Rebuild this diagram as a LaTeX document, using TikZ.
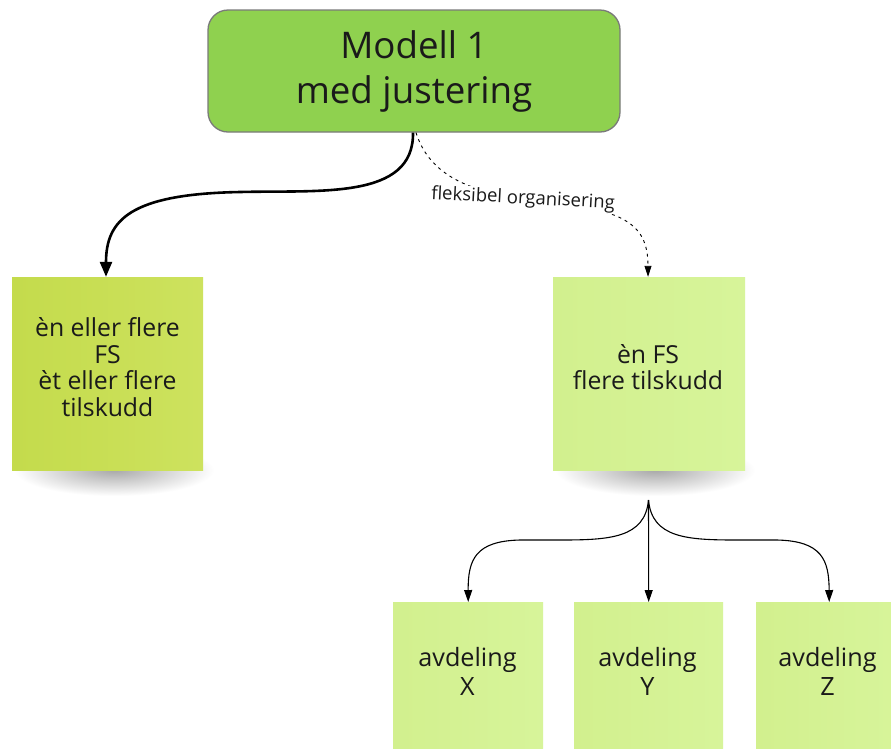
\documentclass[tikz,border=0pt]{standalone}
\usepackage{fontspec}
\setmainfont{Open Sans}
\usetikzlibrary{arrows.meta}
\definecolor{topgreen}{HTML}{8FD14F}
\definecolor{topborder}{HTML}{7A7A7A}
\definecolor{stickyA}{HTML}{C4DB4C}
\definecolor{stickyAr}{HTML}{CDE25E}
\definecolor{stickyB}{HTML}{D2F08E}
\definecolor{stickyBr}{HTML}{D7F49A}
\definecolor{txt}{HTML}{1A1A1A}
\tikzset{
  topbox/.style={draw=topborder, line width=1.3pt, fill=topgreen, rounded corners=20pt,
    minimum width=412pt, minimum height=122pt, align=center, text=txt,
    font=\fontsize{36.7}{45}\selectfont},
  stickyleft/.style={left color=stickyA, right color=stickyAr, draw=none,
    minimum width=191pt, minimum height=193pt, inner sep=0pt},
  stickyright/.style={left color=stickyB, right color=stickyBr, draw=none,
    minimum width=192pt, minimum height=193pt, inner sep=0pt},
  stickysmall/.style={left color=stickyB, right color=stickyBr, draw=none,
    minimum width=150pt, minimum height=160pt, inner sep=0pt, anchor=north west},
  stickytext/.style={align=center, text=txt, font=\fontsize{24.8}{26.7}\selectfont, inner sep=0pt},
  smalltext/.style={align=center, text=txt, font=\fontsize{25.2}{29}\selectfont, inner sep=0pt},
  thickarrow/.style={line width=2.6pt, -{Triangle[length=15pt, width=12pt]}},
  thinarrow/.style={line width=1.1pt, -{Triangle[length=12pt, width=8pt]}},
  dasharrow/.style={line width=0.9pt, dash pattern=on 3pt off 4pt, -{Triangle[length=11pt, width=7pt]}},
  shadowblob/.style={inner color=black!34, outer color=white}
}
\begin{document}
\begin{tikzpicture}[x=1pt, y=-1pt]
\useasboundingbox (0,0) rectangle (891,748);
\clip (0,0) rectangle (891,748);
\fill[white] (0,0) rectangle (891,748);

% shadows
\shade[shadowblob] (114,470) ellipse [x radius=100, y radius=26];
\shade[shadowblob] (655,470) ellipse [x radius=100, y radius=26];

% top box
\node[topbox] (top) at (414,71) {Modell 1\\med justering};

% stickies
\node[stickyleft] (left) at (107.5,373.5) {};
\node[stickytext] (lefttext) at (107.5,367) {èn eller flere\\FS\\èt eller flere\\tilskudd};

\node[stickyright] (right) at (649,373.5) {};
\node[stickytext] (righttext) at (648,367) {èn FS\\flere tilskudd};

\node[stickysmall] (x) at (393,602) {};
\node[stickysmall, minimum width=149pt] (y) at (574,602) {};
\node[stickysmall, minimum width=140pt] (z) at (756,602) {};
\node[smalltext] (xt) at (467.5,671) {avdeling\\X};
\node[smalltext] (yt) at (647.5,671) {avdeling\\Y};
\node[smalltext] (zt) at (827.5,671) {avdeling\\Z};

% connectors
\draw[thickarrow] ([xshift=-1pt]top.south) .. controls (414,200) and (320,190) .. (240,192)
  .. controls (130,194) and (106,220) .. ([xshift=-1.5pt]left.north);

\draw[dasharrow] ([xshift=2pt]top.south) .. controls (428,170) and (460,190) .. (523,199)
  node[fill=white, inner sep=1pt, rotate=-3, font=\fontsize{18.5}{20}\selectfont, text=txt] (lbl) {fleksibel organisering}
  .. controls (620,208) and (648,220) .. ([xshift=-1pt]right.north);

\coordinate (fork) at (648.5,500);
\draw[thinarrow] (fork) .. controls (645,538) and (610,540) .. (560,540)
  -- (520,540) .. controls (475,541) and (468,560) .. (x.north);
\draw[thinarrow] (fork) -- (y.north);
\draw[thinarrow] (fork) .. controls (652,538) and (687,540) .. (737,540)
  -- (777,540) .. controls (822,541) and (829,560) .. ([xshift=3pt]z.north);
\end{tikzpicture}
\end{document}
